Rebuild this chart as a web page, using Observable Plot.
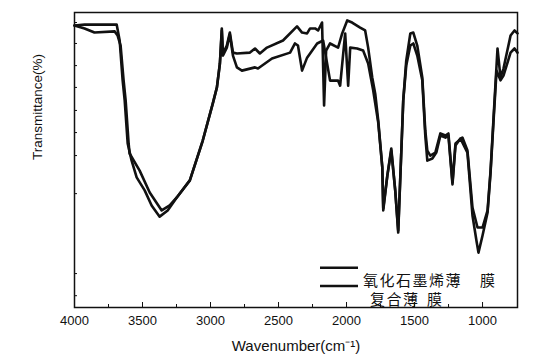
<!DOCTYPE html>
<html><head><meta charset="utf-8">
<script src="https://cdn.jsdelivr.net/npm/d3@7"></script>
<script src="https://cdn.jsdelivr.net/npm/@observablehq/plot@0.6"></script>
<style>body{margin:0;background:#fff;} svg{display:block;}</style>
</head><body><div id="chart"></div>
<script>
// Series A: 氧化石墨烯薄膜 (wavenumber, transmittance)
const waveA = [4000,3926,3816,3690,3668,3646,3631,3609,3580,3543,3484,3433,3374,3315,3248,3152,3057,2983,2953,2931,2917,2909,2880,2858,2835,2806,2710,2673,2637,2585,2467,2364,2327,2290,2268,2231,2209,2180,2165,2150,2121,2062,2032,1995,1959,1900,1863,1841,1811,1789,1767,1737,1730,1700,1671,1642,1620,1597,1583,1561,1531,1509,1480,1443,1421,1406,1384,1347,1310,1273,1251,1221,1199,1148,1111,1074,1037,1000,963,941,919,890,868,846,794,765,743];
const transA = [95.6,95.9,95.9,95.9,90.5,77.0,70.2,55.6,49.8,44.1,39.7,34.6,30.8,32.9,37.3,43.1,56.6,69.2,74.6,82.7,94.6,86.1,88.8,93.2,86.4,86.1,86.4,87.8,86.1,88.1,90.5,95.3,93.2,92.9,94.6,94.6,93.9,96.6,68.5,87.1,89.5,88.1,92.9,97.3,96.6,94.9,93.9,88.1,78.0,72.5,63.4,47.5,32.9,44.7,53.9,39.7,25.4,53.2,70.2,83.7,92.9,93.2,88.8,78.0,60.0,53.2,51.5,52.5,59.0,58.3,59.0,42.4,55.6,57.6,53.2,33.9,27.1,27.1,32.9,46.4,64.4,87.8,78.0,81.0,92.2,93.9,92.9];
// Series B: 复合薄膜
const waveB = [4000,3926,3853,3705,3683,3661,3639,3624,3602,3595,3521,3447,3359,3300,3248,3152,3057,2983,2953,2931,2917,2909,2880,2858,2835,2806,2769,2673,2651,2548,2415,2379,2357,2327,2290,2216,2172,2121,2062,2047,2010,1988,1973,1922,1878,1841,1804,1767,1737,1730,1700,1671,1642,1620,1597,1583,1561,1531,1509,1480,1443,1421,1406,1369,1340,1310,1273,1251,1221,1199,1163,1111,1074,1045,1030,1000,963,941,919,897,868,846,794,765,743];
const transB = [95.6,94.6,93.2,93.6,92.2,88.8,77.0,70.2,55.6,52.2,46.4,39.0,32.9,34.6,37.3,43.1,56.6,69.2,74.6,82.7,93.9,85.4,88.1,92.6,85.4,81.4,80.3,81.4,81.0,84.4,86.4,89.5,88.8,80.3,84.7,89.5,90.5,76.9,76.9,75.2,92.9,75.2,88.1,87.8,87.1,82.7,73.6,62.7,47.5,33.6,44.7,53.2,39.7,26.1,53.2,70.2,82.0,88.8,89.5,85.4,77.0,58.3,49.8,50.5,52.5,58.3,57.6,58.3,41.7,54.9,57.3,52.5,31.2,22.7,18.6,24.4,32.2,45.8,63.4,80.3,77.0,78.6,86.4,87.8,86.4];
const xTicks = [4000,3500,3000,2500,2000,1500,1000];
const xMinor = [3750,3250,2750,2250,1750,1250];
const yTicks = [4,11.5,38.6,51.5,59.3,66.8,74.6,82,89.5,96.6];
const legendLabels = ["氧化石墨烯薄", "膜", "复合薄", "膜"];

const A = waveA.map((w,i)=>({w, t: transA[i]}));
const B = waveB.map((w,i)=>({w, t: transB[i]}));

const plot = Plot.plot({
  width: 537, height: 362,
  marginLeft: 74, marginRight: 20, marginTop: 12, marginBottom: 55,
  style: {fontFamily: "'Liberation Sans', Arial, sans-serif", color: "#111", background: "#fff"},
  x: {domain: [4000, 743]},
  y: {domain: [0, 100]},
  marks: [
    Plot.line(A, {x: "w", y: "t", stroke: "#111", strokeWidth: 2.6}),
    Plot.line(B, {x: "w", y: "t", stroke: "#111", strokeWidth: 2.6}),
    Plot.frame({stroke: "#111", strokeWidth: 1.5}),
    Plot.axisX({ticks: xTicks, tickSize: -5, tickPadding: 13, tickFormat: d => String(d), fontSize: 13, label: null}),
    Plot.axisX({ticks: xMinor, tickSize: -3, tickFormat: () => "", label: null}),
    Plot.axisY({ticks: yTicks, tickSize: -3, tickFormat: () => "", label: null}),
    Plot.text(["Wavenumber(cm\u207B\u00B9)"], {frameAnchor: "bottom", dy: 43, fontSize: 15, fill: "#111"}),
    Plot.text(["Transmittance(%)"], {frameAnchor: "left", dx: -37, rotate: -90, fontSize: 13.5, fill: "#111"})
  ]
});
document.getElementById("chart").appendChild(plot);

// Legend inside plot area
const svg = d3.select(plot);
const g = svg.append("g").attr("text-anchor", "start");
[267.7, 286].forEach(y => g.append("line").attr("x1", 320).attr("x2", 358).attr("y1", y).attr("y2", y).attr("stroke", "#111").attr("stroke-width", 2.5));
const lf = "'Noto Sans CJK SC', sans-serif";
[[363, 286, legendLabels[0]], [480, 286, legendLabels[1]], [370, 305, legendLabels[2]], [427, 305, legendLabels[3]]].forEach(([x,y,t]) =>
  g.append("text").attr("x", x).attr("y", y).attr("text-anchor", "start").attr("font-family", lf).attr("font-size", 15).attr("letter-spacing", 1.5).attr("fill", "#111").text(t));
</script>
</body></html>
